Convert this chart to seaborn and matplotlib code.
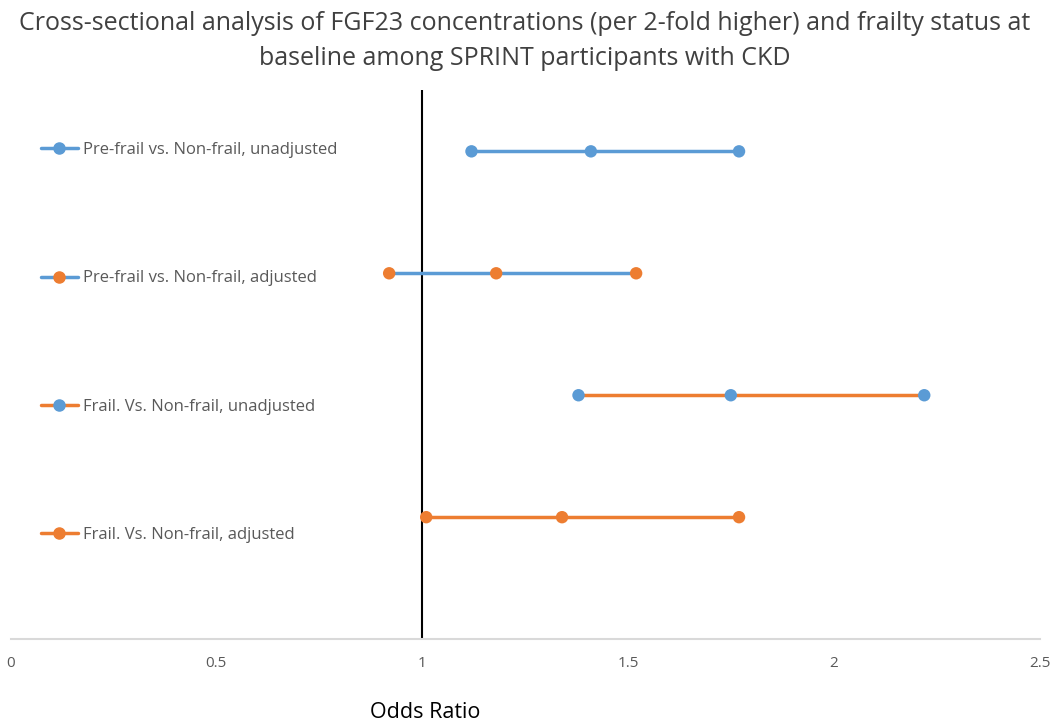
import pandas as pd
import numpy as np
import matplotlib.pyplot as plt
import seaborn as sns
from matplotlib.lines import Line2D

sns.set_theme(style="white")
plt.rcParams['font.family'] = ['Open Sans', 'DejaVu Sans']

# Data
labels = ['Pre-frail vs. Non-frail, unadjusted',
          'Pre-frail vs. Non-frail, adjusted',
          'Frail. Vs. Non-frail, unadjusted',
          'Frail. Vs. Non-frail, adjusted']
lower = [1.12, 0.92, 1.38, 1.01]
estimate = [1.41, 1.18, 1.75, 1.34]
upper = [1.77, 1.52, 2.22, 1.77]
row_pos = [4, 3, 2, 1]

blue = '#5B9BD5'
orange = '#ED7D31'
line_colors = [blue, blue, orange, orange]
marker_colors = [blue, orange, blue, orange]

# Long format table for seaborn
rows = []
for i, lab in enumerate(labels):
    for v in (lower[i], estimate[i], upper[i]):
        rows.append({'label': lab, 'odds': v, 'y': row_pos[i]})
df = pd.DataFrame(rows)

fig, ax = plt.subplots(figsize=(10.5, 7.23), dpi=100)
fig.subplots_adjust(left=0.01, right=0.99, top=0.875, bottom=0.116)

for i, lab in enumerate(labels):
    sub = df[df['label'] == lab]
    sns.lineplot(data=sub, x='odds', y='y', color=line_colors[i], linewidth=2.5,
                 ax=ax, estimator=None, sort=True, legend=False)
    sns.scatterplot(data=sub, x='odds', y='y', color=marker_colors[i], s=80,
                    edgecolor='none', ax=ax, legend=False, zorder=3)

ax.axvline(1, color='black', linewidth=1.5, zorder=1)

ax.set_xlim(0, 2.5)
ax.set_ylim(0, 4.5)
ax.set_xticks(np.arange(0, 2.51, 0.5))
ax.set_xticklabels(['0', '0.5', '1', '1.5', '2', '2.5'])
ax.set_yticks([])
ax.set_xlabel('')
ax.set_ylabel('')
ax.tick_params(axis='x', colors='#595959', labelsize=11, length=0, pad=12)
for side in ['top', 'left', 'right']:
    ax.spines[side].set_visible(False)
ax.spines['bottom'].set_color('#d9d9d9')
ax.spines['bottom'].set_linewidth(1.5)

# Legend-like entries at left
handles = [Line2D([0], [0], color=line_colors[i], linewidth=2.5, marker='o',
                  markersize=8, markerfacecolor=marker_colors[i],
                  markeredgecolor=marker_colors[i]) for i in range(4)]
leg = ax.legend(handles, labels, loc='upper left', bbox_to_anchor=(0.015, 0.933),
                frameon=False, fontsize=12, labelspacing=6.74, handlelength=2.2,
                handletextpad=0.3, labelcolor='#595959')

fig.suptitle('Cross-sectional analysis of FGF23 concentrations (per 2-fold higher) and frailty status at\n'
             'baseline among SPRINT participants with CKD',
             fontsize=18, color='#404040', y=0.985, linespacing=1.55)
fig.text(0.405, 0.0, 'Odds Ratio', fontsize=15.5, color='black', ha='center', va='bottom')

fig.savefig('out.png', dpi=100)
